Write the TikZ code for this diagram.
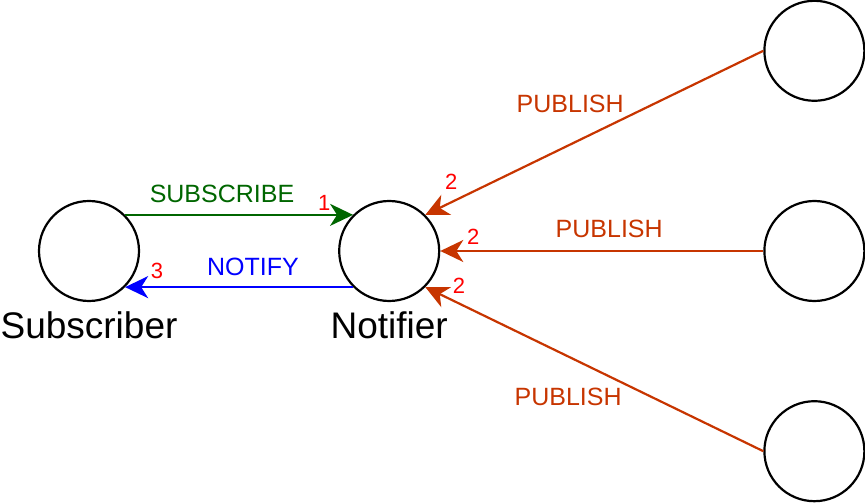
\documentclass[tikz,border=0pt]{standalone}
\usepackage{fontspec}
\setmainfont{Liberation Sans}
\usetikzlibrary{positioning, arrows.meta}

\definecolor{subgreen}{HTML}{006600}
\definecolor{notifyblue}{HTML}{0000FF}
\definecolor{pubred}{HTML}{C73500}
\definecolor{numred}{HTML}{FF0000}

\begin{document}
\begin{tikzpicture}[x=1pt, y=1pt, line width=2.2pt,
    >={Stealth[length=23pt, width=22pt, inset=7pt]},
    party/.style={circle, draw, minimum size=100pt, inner sep=0pt},
    role/.style={font=\fontsize{37}{44}\selectfont, inner sep=2pt},
    msg/.style={font=\fontsize{25}{30}\selectfont, inner sep=0pt},
    order/.style={font=\fontsize{22}{26}\selectfont, text=numred, inner sep=0pt}]
            \useasboundingbox (0,0) rectangle (865,503);

            \node[party] (sub) at (89,252) {};
            \node[party] (notif) [right = 198pt of sub] {};
            \node[party] (pubB) [right = 323pt of notif] {};
            \node[party] (pubA) [above = 98pt of pubB] {};
            \node[party] (pubC) [below = 98pt of pubB] {};

            \node[role] (subname) [below = 6pt of sub] {Subscriber};
            \node[role] (notifname) [below = 6pt of notif] {Notifier};

            \path[->]
              (sub.north east) edge[subgreen] node[msg, pos=.425, yshift=21pt] {SUBSCRIBE} node[order, pos=.873, yshift=12pt] {1} (notif.north west)
              (notif.south west) edge[notifyblue] node[msg, pos=.439, yshift=20pt] {NOTIFY} node[order, pos=.86, yshift=16pt] {3} (sub.south east)
              (pubA.west) edge[pubred] node[msg, pos=.524, xshift=-16pt, yshift=33pt] {PUBLISH} node[order, pos=.9, xshift=-8pt, yshift=17pt] {2} (notif.north east)
              (pubB.west) edge[pubred] node[msg, pos=.477, yshift=22pt] {PUBLISH} node[order, pos=.898, yshift=14pt] {2} (notif.east)
              (pubC.west) edge[pubred] node[msg, pos=.53, xshift=-16pt, yshift=-33pt] {PUBLISH} node[order, pos=.921, xshift=7pt, yshift=14pt] {2} (notif.south east)
            ;
          \end{tikzpicture}
\end{document}
